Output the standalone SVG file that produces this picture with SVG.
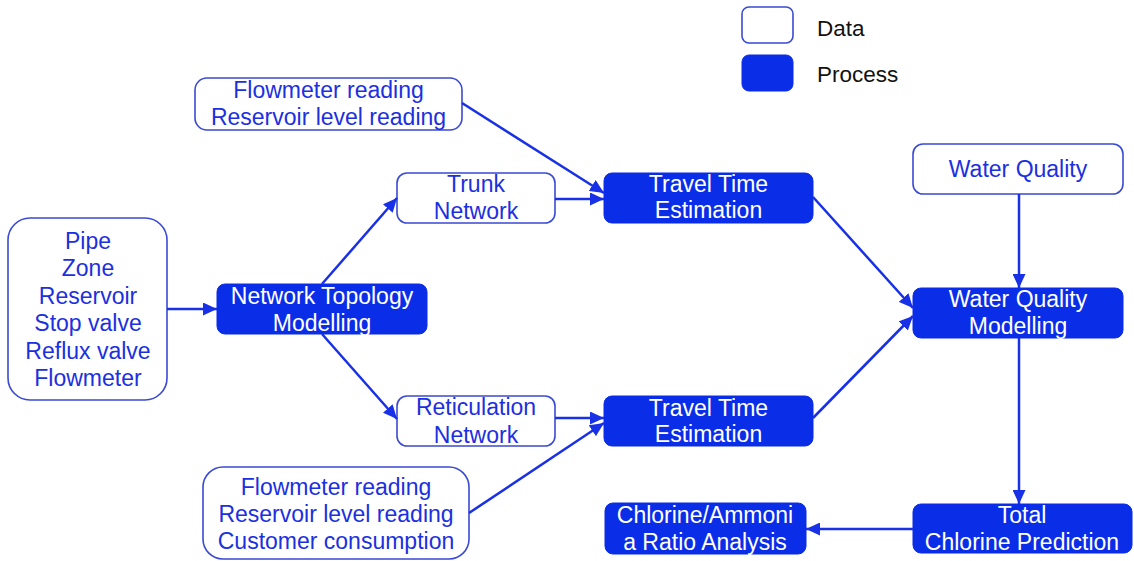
<svg xmlns="http://www.w3.org/2000/svg" width="1134" height="561" viewBox="0 0 1134 561">
<style>
.data{fill:#fff;stroke:#3a4ad2;stroke-width:1.6}
.proc{fill:#0a2de8;stroke:#0a2de8;stroke-width:1}
text{font-family:"Liberation Sans",Arial,sans-serif;font-size:23px;text-anchor:middle}
.dt{fill:#1b30e0}
.pt{fill:#ffffff}
.lg{fill:#111;text-anchor:start;font-size:22.5px}
.conn line{stroke:#1830e6;stroke-width:2.5}
</style>
<defs>
<marker id="ah" markerUnits="userSpaceOnUse" markerWidth="15" markerHeight="13" refX="14" refY="6.5" orient="auto">
<path d="M0,0 L14,6.5 L0,13 z" fill="#1830e6"/>
</marker>
</defs>
<rect width="1134" height="561" fill="#fff"/>
<g id="legend">
<rect class="data" x="742" y="7" width="51" height="36" rx="7"/>
<text class="lg" x="817" y="36">Data</text>
<rect class="proc" x="742" y="55" width="51" height="36" rx="7"/>
<text class="lg" x="817" y="82">Process</text>
</g>
<g id="assets">
<rect class="data" x="8" y="218" width="159" height="182" rx="22"/>
<text class="dt" x="88" y="249">Pipe</text>
<text class="dt" x="88" y="276.4">Zone</text>
<text class="dt" x="88" y="303.8">Reservoir</text>
<text class="dt" x="88" y="331.2">Stop valve</text>
<text class="dt" x="88" y="358.6">Reflux valve</text>
<text class="dt" x="88" y="386">Flowmeter</text>
</g>
<g id="ntm">
<rect class="proc" x="217" y="284" width="210" height="50" rx="8"/>
<text class="pt" x="322" y="304">Network Topology</text>
<text class="pt" x="322" y="331">Modelling</text>
</g>
<g id="readings1">
<rect class="data" x="195" y="78" width="267" height="52" rx="12"/>
<text class="dt" x="328.5" y="98">Flowmeter reading</text>
<text class="dt" x="328.5" y="125">Reservoir level reading</text>
</g>
<g id="trunk">
<rect class="data" x="397" y="173" width="158" height="50" rx="10"/>
<text class="dt" x="476" y="192">Trunk</text>
<text class="dt" x="476" y="219">Network</text>
</g>
<g id="tt1">
<rect class="proc" x="604" y="173" width="209" height="50" rx="8"/>
<text class="pt" x="708.5" y="192">Travel Time</text>
<text class="pt" x="708.5" y="218">Estimation</text>
</g>
<g id="retic">
<rect class="data" x="397" y="396" width="158" height="50" rx="10"/>
<text class="dt" x="476" y="415">Reticulation</text>
<text class="dt" x="476" y="443">Network</text>
</g>
<g id="tt2">
<rect class="proc" x="604" y="396" width="209" height="50" rx="8"/>
<text class="pt" x="708.5" y="416">Travel Time</text>
<text class="pt" x="708.5" y="442">Estimation</text>
</g>
<g id="readings2">
<rect class="data" x="203" y="467" width="266" height="92" rx="20"/>
<text class="dt" x="336" y="495">Flowmeter reading</text>
<text class="dt" x="336" y="522">Reservoir level reading</text>
<text class="dt" x="336" y="549">Customer consumption</text>
</g>
<g id="wq">
<rect class="data" x="913" y="144" width="210" height="50" rx="10"/>
<text class="dt" x="1018" y="177">Water Quality</text>
</g>
<g id="wqm">
<rect class="proc" x="913" y="288" width="210" height="50" rx="8"/>
<text class="pt" x="1018" y="307">Water Quality</text>
<text class="pt" x="1018" y="334">Modelling</text>
</g>
<g id="tcp">
<rect class="proc" x="913" y="504" width="219" height="49" rx="8"/>
<text class="pt" x="1022" y="523">Total</text>
<text class="pt" x="1022" y="550">Chlorine Prediction</text>
</g>
<g id="ratio">
<rect class="proc" x="605" y="503" width="201" height="51" rx="8"/>
<text class="pt" x="705" y="523">Chlorine/Ammoni</text>
<text class="pt" x="705" y="550">a Ratio Analysis</text>
</g>
<g id="connectors" class="conn">
<line x1="167" y1="309" x2="217" y2="309" marker-end="url(#ah)"/>
<line x1="322" y1="284" x2="397" y2="198" marker-end="url(#ah)"/>
<line x1="322" y1="334" x2="397" y2="419" marker-end="url(#ah)"/>
<line x1="462" y1="103" x2="604" y2="193" marker-end="url(#ah)"/>
<line x1="555" y1="199" x2="604" y2="199" marker-end="url(#ah)"/>
<line x1="555" y1="418" x2="604" y2="418" marker-end="url(#ah)"/>
<line x1="469" y1="513" x2="604" y2="423" marker-end="url(#ah)"/>
<line x1="813" y1="197" x2="913" y2="308" marker-end="url(#ah)"/>
<line x1="813" y1="418" x2="913" y2="316" marker-end="url(#ah)"/>
<line x1="1019" y1="194" x2="1019" y2="288" marker-end="url(#ah)"/>
<line x1="1019" y1="338" x2="1019" y2="504" marker-end="url(#ah)"/>
<line x1="913" y1="529" x2="806" y2="529" marker-end="url(#ah)"/>
</g>
</svg>
